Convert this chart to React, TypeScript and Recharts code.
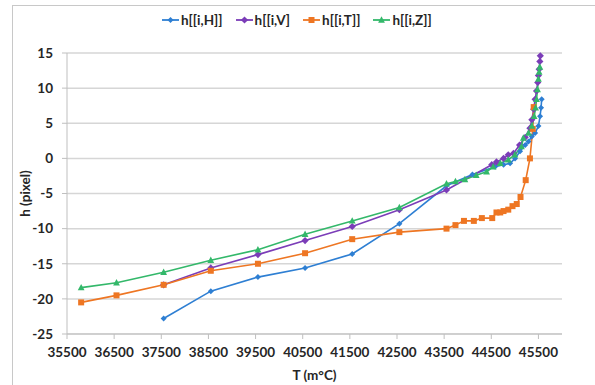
import { LineChart, Line, XAxis, YAxis, CartesianGrid, Label } from "recharts"

// temperatures (m°C) and heights (pixel) per series
const tempH = [37550, 38550, 39550, 40550, 41550, 42550, 43550, 44100, 44580, 44760, 44900, 45005, 45110, 45220, 45290, 45360, 45430, 45500, 45535, 45556, 45569]
const hH = [-22.8, -18.9, -16.9, -15.6, -13.6, -9.3, -3.9, -2.3, -1.2, -0.9, -0.7, 0.0, 1.0, 1.9, 2.4, 3.1, 3.6, 4.6, 6.0, 7.2, 8.4]

const tempV = [37550, 38550, 39550, 40550, 41550, 42550, 43550, 44510, 44610, 44760, 44860, 44970, 45100, 45220, 45320, 45360, 45400, 45430, 45460, 45485, 45500, 45515, 45530, 45540]
const hV = [-18.0, -15.6, -13.7, -11.7, -9.7, -7.3, -4.5, -0.9, -0.5, 0.0, 0.5, 0.7, 1.9, 3.0, 4.3, 5.5, 7.0, 8.4, 9.6, 10.8, 11.8, 12.7, 13.8, 14.6]

const tempT = [35800, 36550, 37550, 38550, 39550, 40550, 41550, 42550, 43550, 43740, 43920, 44130, 44300, 44520, 44610, 44690, 44760, 44860, 44950, 45040, 45120, 45230, 45320, 45380, 45400]
const hT = [-20.5, -19.5, -18.0, -16.0, -15.0, -13.5, -11.5, -10.5, -10.0, -9.5, -8.9, -8.9, -8.5, -8.5, -7.7, -7.7, -7.5, -7.3, -6.8, -6.5, -5.5, -3.1, 0.0, 4.2, 7.3]

const tempZ = [35800, 36550, 37550, 38550, 39550, 40550, 41550, 42550, 43550, 43740, 43940, 44180, 44400, 44540, 44690, 44860, 45000, 45140, 45180, 45290, 45360, 45410, 45440, 45460, 45480, 45500, 45515, 45530]
const hZ = [-18.4, -17.7, -16.2, -14.5, -13.0, -10.8, -8.9, -7.0, -3.6, -3.3, -3.0, -2.4, -1.9, -1.2, -0.7, -0.2, 0.5, 1.7, 2.9, 3.6, 4.6, 6.0, 7.2, 8.4, 9.8, 11.3, 12.3, 13.0]

const xTicks = [35500, 36500, 37500, 38500, 39500, 40500, 41500, 42500, 43500, 44500, 45500]
const yTicks = [-25, -20, -15, -10, -5, 0, 5, 10, 15]

const toRows = (t: number[], h: number[]) => t.map((T, i) => ({ T, h: h[i] }))

type Shape = "diamond" | "square" | "triangle"

const series: { name: string; color: string; shape: Shape; size: number; data: { T: number; h: number }[] }[] = [
  { name: "h[[i,H]]", color: "#2e7fd3", shape: "diamond", size: 3, data: toRows(tempH, hH) },
  { name: "h[[i,V]", color: "#7b3db8", shape: "diamond", size: 3.6, data: toRows(tempV, hV) },
  { name: "h[[i,T]]", color: "#ee7623", shape: "square", size: 3, data: toRows(tempT, hT) },
  { name: "h[[i,Z]]", color: "#33b86a", shape: "triangle", size: 3.4, data: toRows(tempZ, hZ) },
]

const font = "Lato, 'Open Sans', sans-serif"
const textColor = "#262626"

function markerPath(shape: Shape, cx: number, cy: number, s: number) {
  if (shape === "diamond") return `M${cx},${cy - s}L${cx + s},${cy}L${cx},${cy + s}L${cx - s},${cy}Z`
  if (shape === "square") return `M${cx - s},${cy - s}h${2 * s}v${2 * s}h${-2 * s}Z`
  return `M${cx},${cy - s * 1.1}L${cx + s},${cy + s * 0.8}L${cx - s},${cy + s * 0.8}Z`
}

function LegendBar() {
  return (
    <div
      style={{
        position: "absolute",
        top: 11,
        left: 162,
        display: "flex",
        gap: 13,
        fontFamily: font,
        fontWeight: 700,
        fontSize: 13.5,
        color: textColor,
        lineHeight: "18px",
      }}
    >
      {series.map((s) => (
        <div key={s.name} style={{ display: "flex", alignItems: "center", gap: 2 }}>
          <svg width={17} height={10}>
            <line x1={0} y1={5} x2={17} y2={5} stroke={s.color} strokeWidth={1.8} />
            <path d={markerPath(s.shape, 8.5, 5, s.size)} fill={s.color} />
          </svg>
          <span>{s.name}</span>
        </div>
      ))}
    </div>
  )
}

export default function App() {
  const tick = { fill: textColor, fontSize: 13.5, fontWeight: 700, fontFamily: font }
  return (
    <div style={{ position: "absolute", left: 0, top: 0, width: 595, height: 385, overflow: "hidden", background: "#fff" }}>
      <div
        style={{
          position: "absolute",
          left: 12,
          top: 5,
          width: 700,
          height: 500,
          border: "1px solid #c8c8c8",
        }}
      />
      <LineChart width={595} height={385} margin={{ top: 53, right: 33, bottom: 0, left: 0 }}>
        <CartesianGrid vertical={false} stroke="#d6d6d6" strokeWidth={1.5} />
        <XAxis
          dataKey="T"
          type="number"
          domain={[35500, 46000]}
          ticks={xTicks}
          allowDataOverflow
          height={51}
          stroke="#bfbfbf"
          tickSize={5}
          tickMargin={8}
          tick={tick}
          interval={0}
        >
          <Label
            value="T (m°C)"
            position="insideBottom"
            offset={5}
            style={{ fill: textColor, fontSize: 13.5, fontWeight: 700, fontFamily: font }}
          />
        </XAxis>
        <YAxis
          type="number"
          domain={[-25, 15]}
          ticks={yTicks}
          width={67}
          stroke="#bfbfbf"
          tickSize={5}
          tickMargin={9}
          tick={tick}
          interval={0}
        >
          <Label
            value="h (pixel)"
            angle={-90}
            position="insideLeft"
            offset={25}
            style={{ fill: textColor, fontSize: 13.5, fontWeight: 700, fontFamily: font, textAnchor: "middle" }}
          />
        </YAxis>
        {series.map((s) => (
          <Line
            key={s.name}
            data={s.data}
            dataKey="h"
            name={s.name}
            type="linear"
            stroke={s.color}
            strokeWidth={1.6}
            isAnimationActive={false}
            dot={(p: any) => (
              <path key={`${s.name}-${p.index}`} d={markerPath(s.shape, p.cx, p.cy, s.size)} fill={s.color} />
            )}
            activeDot={false}
          />
        ))}
      </LineChart>
      <LegendBar />
    </div>
  )
}
